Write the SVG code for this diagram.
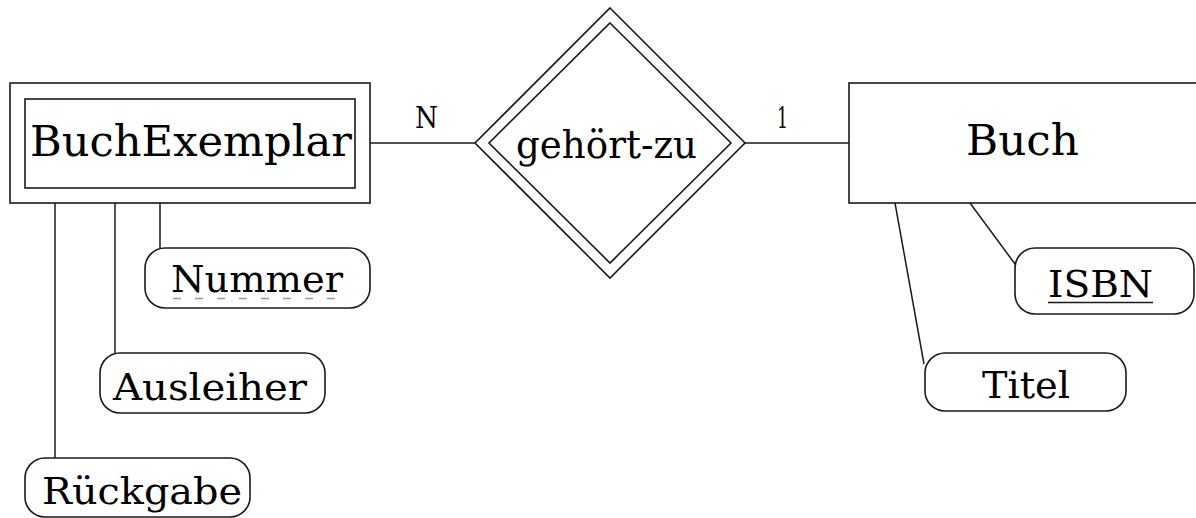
<svg xmlns="http://www.w3.org/2000/svg" width="1196" height="518" viewBox="0 0 1196 518">
<style>
  .shape { fill: #ffffff; stroke: #1a1a1a; stroke-width: 1.6; }
  .conn { fill: none; stroke: #1a1a1a; stroke-width: 1.5; }
  .ent { font-family: "DejaVu Serif", "Liberation Serif", serif; font-size: 42px; fill: #000000; }
  .att { font-family: "DejaVu Serif", "Liberation Serif", serif; font-size: 38px; fill: #000000; }
  .rel { font-family: "DejaVu Serif", "Liberation Serif", serif; font-size: 39px; fill: #000000; }
  .card { font-family: "DejaVu Serif", "Liberation Serif", serif; font-size: 30px; fill: #000000; }
</style>
<rect x="0" y="0" width="1196" height="518" fill="#ffffff"/>
<g id="connectors">
  <line class="conn" x1="370" y1="143" x2="475" y2="143"/>
  <line class="conn" x1="745" y1="143" x2="849" y2="143"/>
  <line class="conn" x1="160" y1="203" x2="160" y2="248"/>
  <line class="conn" x1="115" y1="203" x2="115" y2="353"/>
  <line class="conn" x1="55" y1="203" x2="55" y2="458"/>
  <line class="conn" x1="970" y1="203" x2="1015" y2="264"/>
  <line class="conn" x1="895" y1="203" x2="924" y2="364"/>
  <text class="card" x="415" y="128" textLength="23" lengthAdjust="spacingAndGlyphs">N</text>
  <text class="card" x="777" y="128" textLength="11" lengthAdjust="spacingAndGlyphs">1</text>
</g>
<g id="BuchExemplar">
  <rect class="shape" x="10" y="83" width="360" height="120"/>
  <rect class="shape" x="25" y="99" width="330" height="89"/>
  <text class="ent" x="30" y="156" textLength="322" lengthAdjust="spacingAndGlyphs">BuchExemplar</text>
</g>
<g id="gehoert-zu">
  <polygon class="shape" points="610,8 745,143 610,278 475,143"/>
  <polygon class="shape" points="610,23 731,143 610,263 489,143"/>
  <text class="rel" x="516" y="158" textLength="181" lengthAdjust="spacingAndGlyphs">gehört-zu</text>
</g>
<g id="Buch">
  <rect class="shape" x="849" y="83" width="400" height="120"/>
  <text class="ent" x="966" y="155" textLength="113" lengthAdjust="spacingAndGlyphs">Buch</text>
</g>
<g id="Nummer">
  <rect class="shape" x="145" y="248" width="225" height="60" rx="20" ry="20"/>
  <text class="att" x="171" y="292" textLength="172" lengthAdjust="spacingAndGlyphs">Nummer</text>
  <line x1="173" y1="298.5" x2="342" y2="298.5" stroke="#999999" stroke-width="1.5" stroke-dasharray="8,14"/>
</g>
<g id="Ausleiher">
  <rect class="shape" x="100" y="353" width="225" height="60" rx="20" ry="20"/>
  <text class="att" x="113" y="400" textLength="194" lengthAdjust="spacingAndGlyphs">Ausleiher</text>
</g>
<g id="Rueckgabe">
  <rect class="shape" x="25" y="458" width="225" height="59" rx="20" ry="20"/>
  <text class="att" x="42" y="504" textLength="200" lengthAdjust="spacingAndGlyphs">Rückgabe</text>
</g>
<g id="ISBN">
  <rect class="shape" x="1015" y="248" width="179" height="66" rx="20" ry="20"/>
  <text class="att" x="1048" y="297" textLength="105" lengthAdjust="spacingAndGlyphs">ISBN</text>
  <line x1="1048" y1="302.5" x2="1153" y2="302.5" stroke="#1a1a1a" stroke-width="1.5"/>
</g>
<g id="Titel">
  <rect class="shape" x="925" y="353" width="201" height="58" rx="20" ry="20"/>
  <text class="att" x="982" y="398" textLength="88" lengthAdjust="spacingAndGlyphs">Titel</text>
</g>
</svg>
